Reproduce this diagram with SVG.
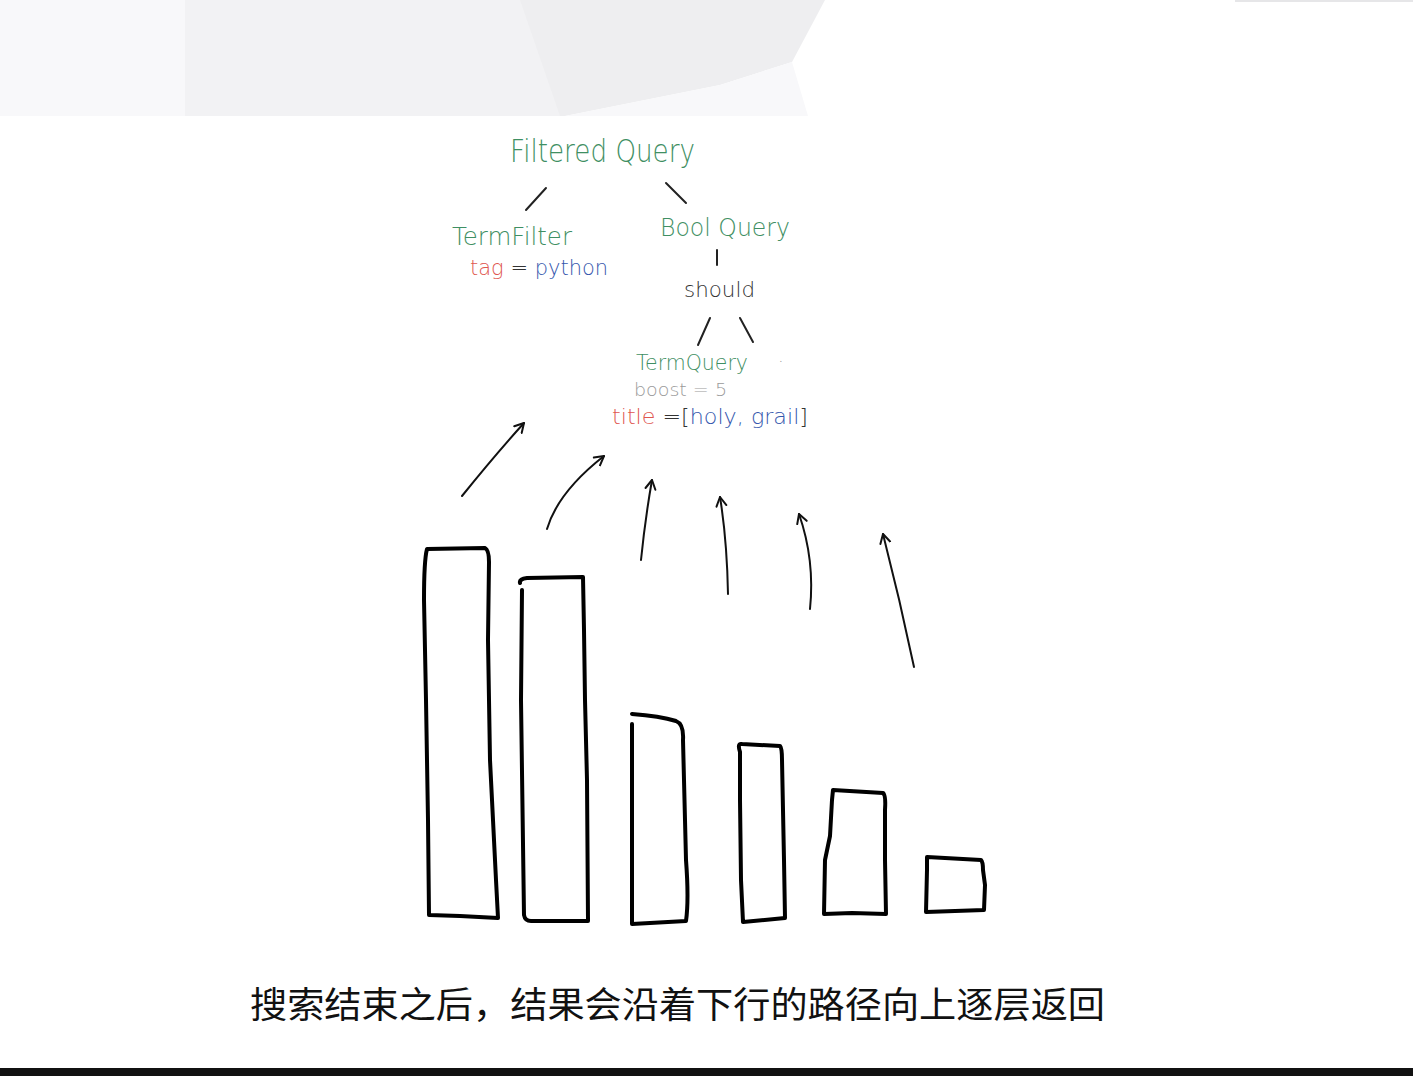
<svg xmlns="http://www.w3.org/2000/svg" width="1413" height="1076" viewBox="0 0 1413 1076">
<defs>
<style>
.hand{font-family:"DejaVu Sans","Liberation Sans",sans-serif;font-weight:200}
.g{fill:#3f8f63}
.r{fill:#e0574f}
.b{fill:#3557ad}
.k{fill:#333}
.gray{fill:#9a9a9a}
.ln{stroke:#222;stroke-width:2;fill:none;stroke-linecap:round}
.arr{stroke:#111;stroke-width:2;fill:none;stroke-linecap:round;marker-end:url(#ah)}
.bar{stroke:#000;stroke-width:4;fill:none;stroke-linejoin:round;stroke-linecap:round}
.cap{font-family:"Noto Sans CJK SC","Noto Sans",sans-serif;font-size:36px;fill:#111}
</style>
<marker id="ah" markerUnits="userSpaceOnUse" markerWidth="20" markerHeight="20" viewBox="-10 -10 20 20" refX="0" refY="0" orient="auto">
<path d="M-9,-5 L0,0 L-9,5" stroke="#111" stroke-width="2" fill="none" stroke-linecap="round" stroke-linejoin="round"/>
</marker>
</defs>
<rect width="1413" height="1076" fill="#fff"/>
<g id="background">
<rect x="0" y="0" width="190" height="116" fill="#f8f8fa"/>
<rect x="185" y="0" width="380" height="116" fill="#f2f2f4"/>
<path d="M520,0 L825,0 L792,62 L720,85 L565,116 L560,116 Z" fill="#eeeef0"/>
<path d="M565,116 L720,85 L792,62 L808,116 Z" fill="#f8f8fa"/>
<rect x="1235" y="0" width="178" height="2" fill="#e6e6e8"/>
<rect x="0" y="1068" width="1413" height="8" fill="#111"/>
</g>
<g id="connectors">
<path class="ln" d="M546,188 L526,210"/>
<path class="ln" d="M666,183 L686,203"/>
<path class="ln" d="M717,250 L717,265"/>
<path class="ln" d="M710,318 L698,345"/>
<path class="ln" d="M740,318 L753,342"/>
<path class="arr" d="M462,496 Q495,455 524,423"/>
<path class="arr" d="M547,529 Q558,492 604,456"/>
<path class="arr" d="M641,560 Q645,520 652,480"/>
<path class="arr" d="M728,594 Q727,540 720,497"/>
<path class="arr" d="M810,609 Q815,560 799,514"/>
<path class="arr" d="M914,667 Q900,600 883,534"/>
</g>
<g id="filtered-query"><text class="hand g" x="510" y="162" font-size="32" textLength="185" lengthAdjust="spacingAndGlyphs">Filtered Query</text></g>
<g id="term-filter">
<text class="hand g" x="452" y="245" font-size="25" textLength="120" lengthAdjust="spacingAndGlyphs">TermFilter</text>
<text class="hand" x="470" y="275" font-size="21"><tspan class="r">tag</tspan><tspan class="k"> = </tspan><tspan class="b">python</tspan></text>
</g>
<g id="bool-query"><text class="hand g" x="660" y="236" font-size="25" textLength="130" lengthAdjust="spacingAndGlyphs">Bool Query</text></g>
<g id="should"><text class="hand k" x="684" y="297" font-size="22" textLength="71" lengthAdjust="spacingAndGlyphs">should</text></g>
<g id="term-query">
<text class="hand g" x="636" y="370" font-size="21" textLength="112" lengthAdjust="spacingAndGlyphs">TermQuery</text>
<text class="hand gray" x="778" y="362" font-size="18">.</text>
<text class="hand gray" x="634" y="396" font-size="17" textLength="93" lengthAdjust="spacingAndGlyphs">boost = 5</text>
<text class="hand" x="612" y="424" font-size="21" textLength="196" lengthAdjust="spacingAndGlyphs"><tspan class="r">title</tspan><tspan class="k"> =[</tspan><tspan class="b">holy, grail</tspan><tspan class="k">]</tspan></text>
</g>
<g id="bars">
<path class="bar" d="M427,549 L485,548 Q489,550 489,562 L488,640 L490,760 L496,880 L498,918 L460,916 L429,915 L428,820 L426,700 L424,600 Q424,560 427,549 Z"/>
<path class="bar" d="M522,590 L521,700 L524,915 Q525,921 531,921 L588,921 L587,780 L585,700 L584,630 L583,577 L527,578 Q519,579 520,583"/>
<path class="bar" d="M632,724 L632,924 L686,921 Q689,900 686,860 L684,780 L683,740 Q684,724 676,721 Q660,716 632,714"/>
<path class="bar" d="M740,752 Q737,743 742,744 L780,746 Q782,748 782,760 L784,860 L785,918 L743,922 L741,880 L740,800 Z"/>
<path class="bar" d="M833,790 L883,793 Q886,795 885,810 L885,860 L886,914 L852,913 L824,914 L825,860 L830,836 L832,800 Z"/>
<path class="bar" d="M927,857 L981,860 Q983,862 983,870 L985,885 L984,910 L926,912 L927,870 Z"/>
</g>
<g id="caption"><text class="cap" x="250" y="1018" textLength="855" lengthAdjust="spacingAndGlyphs">搜索结束之后，结果会沿着下行的路径向上逐层返回</text></g>
</svg>
